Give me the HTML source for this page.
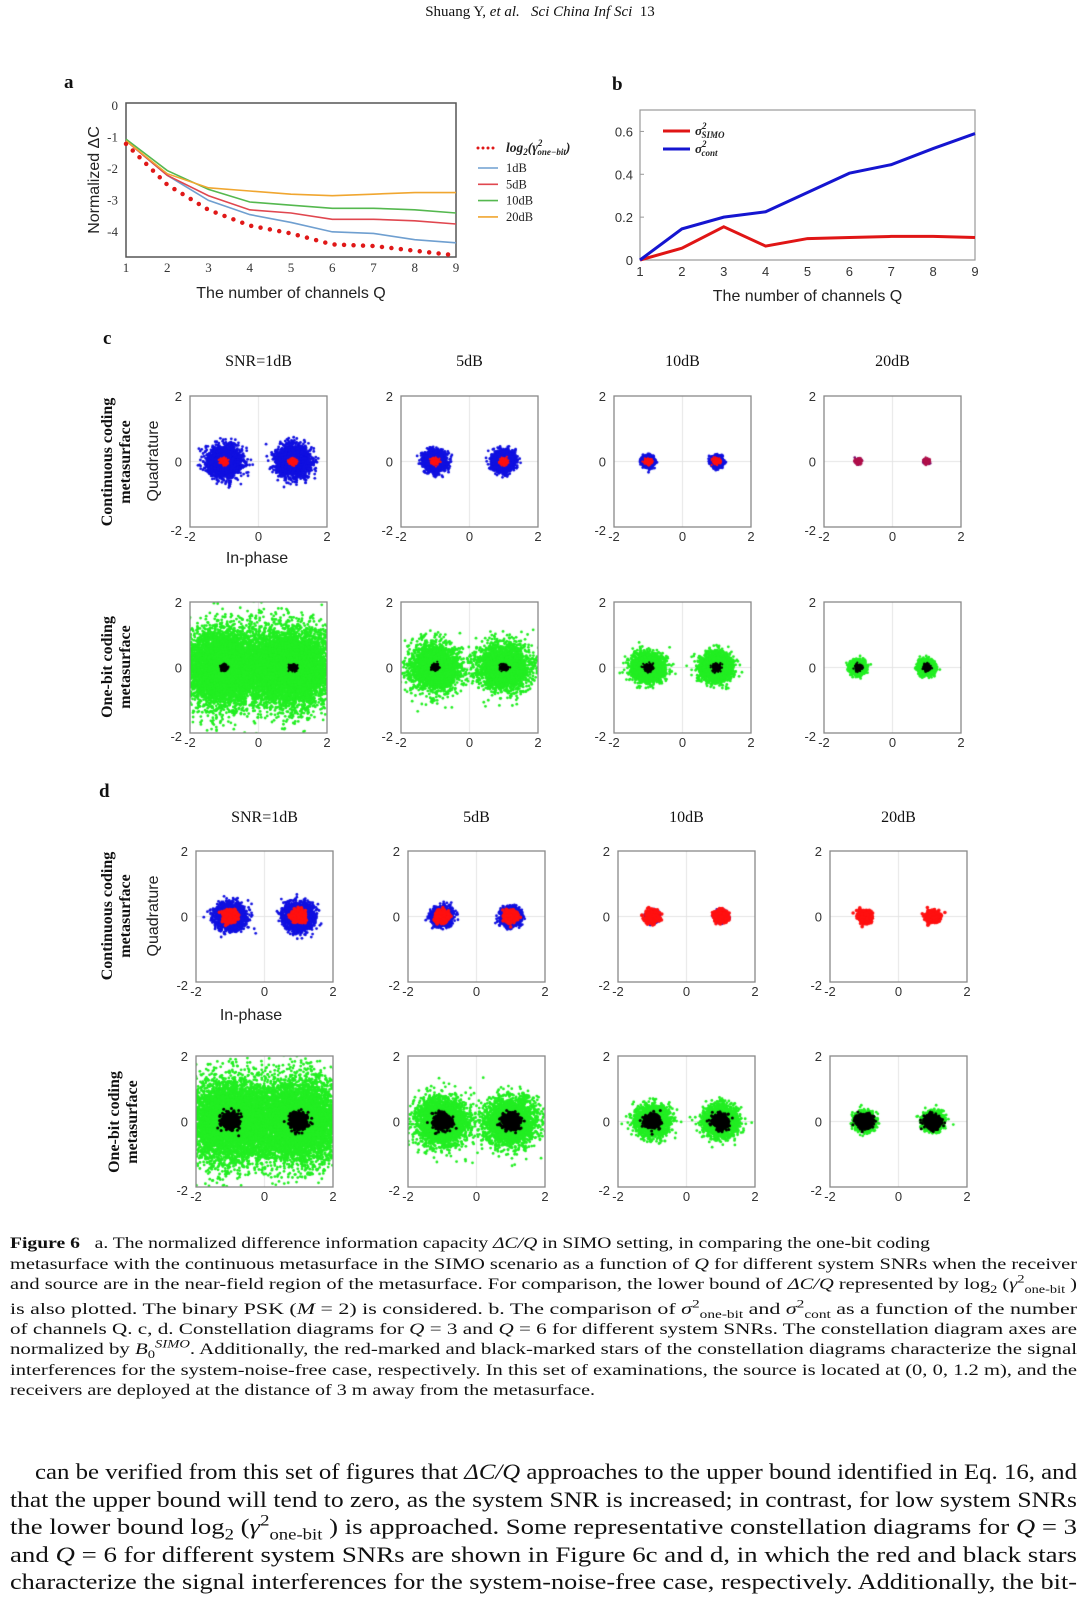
<!DOCTYPE html>
<html><head><meta charset="utf-8">
<style>
html,body{margin:0;padding:0;background:#fff;}
#root{position:relative;width:1080px;height:1600px;overflow:hidden;background:#fff;}
#cv,#sv{position:absolute;left:0;top:0;}
.txt{position:absolute;font-family:"Liberation Serif",serif;color:#111;white-space:nowrap;}
.cap{position:absolute;left:10px;font-family:"Liberation Serif",serif;font-size:16px;color:#111;white-space:nowrap;line-height:20px;transform-origin:0 0;}
.body{position:absolute;left:10px;font-family:"Liberation Serif",serif;font-size:22px;color:#111;white-space:nowrap;line-height:27px;transform-origin:0 0;}
sub,sup{font-size:70%;line-height:0;}
</style></head>
<body>
<div id="root">
<canvas id="cv" width="1080" height="1600"></canvas>
<svg id="sv" width="1080" height="1600" xmlns="http://www.w3.org/2000/svg"></svg>

<div class="txt" style="left:0;width:1080px;text-align:center;top:4px;font-size:15px;">Shuang Y, <i>et al.</i> &nbsp;&nbsp;<i>Sci China Inf Sci</i> &nbsp;13</div>

<div class="cap" data-w="920" style="top:1234px;"><b>Figure 6</b> &nbsp;&nbsp;a. The normalized difference information capacity <i>ΔC/Q</i> in SIMO setting, in comparing the one-bit coding</div>
<div class="cap" data-w="1067" style="top:1255px;">metasurface with the continuous metasurface in the SIMO scenario as a function of <i>Q</i> for different system SNRs when the receiver</div>
<div class="cap" data-w="1067" style="top:1275px;">and source are in the near-field region of the metasurface. For comparison, the lower bound of <i>ΔC/Q</i> represented by log<sub>2</sub> (<i>γ</i><sup>2</sup><sub>one-bit</sub> )</div>
<div class="cap" data-w="1067" style="top:1300px;">is also plotted. The binary PSK (<i>M</i> = 2) is considered. b. The comparison of <i>σ</i><sup>2</sup><sub>one-bit</sub> and <i>σ</i><sup>2</sup><sub>cont</sub> as a function of the number</div>
<div class="cap" data-w="1067" style="top:1320px;">of channels Q. c, d. Constellation diagrams for <i>Q</i> = 3 and <i>Q</i> = 6 for different system SNRs. The constellation diagram axes are</div>
<div class="cap" data-w="1067" style="top:1340px;">normalized by <i>B</i><sub>0</sub><sup><i>SIMO</i></sup>. Additionally, the red-marked and black-marked stars of the constellation diagrams characterize the signal</div>
<div class="cap" data-w="1067" style="top:1361px;">interferences for the system-noise-free case, respectively. In this set of examinations, the source is located at (0, 0, 1.2 m), and the</div>
<div class="cap" data-w="585" style="top:1381px;">receivers are deployed at the distance of 3 m away from the metasurface.</div>

<div class="body" data-w="1042" style="top:1458px;left:35px;">can be verified from this set of figures that <i>ΔC/Q</i> approaches to the upper bound identified in Eq. 16, and</div>
<div class="body" data-w="1067" style="top:1486px;">that the upper bound will tend to zero, as the system SNR is increased; in contrast, for low system SNRs</div>
<div class="body" data-w="1067" style="top:1513px;">the lower bound log<sub>2</sub> (<i>γ</i><sup>2</sup><sub>one-bit</sub> ) is approached. Some representative constellation diagrams for <i>Q</i> = 3</div>
<div class="body" data-w="1067" style="top:1541px;">and <i>Q</i> = 6 for different system SNRs are shown in Figure 6c and d, in which the red and black stars</div>
<div class="body" data-w="1067" style="top:1568px;">characterize the signal interferences for the system-noise-free case, respectively. Additionally, the bit-</div>
</div>

<script>
// ---------- Chart a data ----------
const aQ = [1,2,3,4,5,6,7,8,9];
const aLower = [-1.2,-2.5,-3.3,-3.8,-4.05,-4.4,-4.45,-4.6,-4.75];
const a1dB = [-1.1,-2.2,-3.0,-3.45,-3.7,-4.0,-4.05,-4.25,-4.35];
const a5dB = [-1.1,-2.2,-2.85,-3.3,-3.4,-3.6,-3.6,-3.65,-3.75];
const a10dB = [-1.05,-2.05,-2.65,-3.05,-3.15,-3.25,-3.25,-3.3,-3.4];
const a20dB = [-1.1,-2.15,-2.6,-2.7,-2.8,-2.85,-2.8,-2.75,-2.75];
const aYTicks = [0,-1,-2,-3,-4];
// ---------- Chart b data ----------
const bQ = [1,2,3,4,5,6,7,8,9];
const bCont = [0,0.145,0.2,0.225,0.315,0.405,0.445,0.52,0.59];
const bSimo = [0,0.055,0.155,0.065,0.1,0.105,0.11,0.11,0.105];
const bYTicks = [0,0.2,0.4,0.6];
// ---------- Constellation data ----------
const snrTitles = ["SNR=1dB","5dB","10dB","20dB"];
const symbols = [-1,1];
const cBlueSigma = [0.24,0.15,0.075,0.035];
const cRedSigma = [0.05,0.05,0.05,0.04];
const cGreenSigma = [0.62,0.36,0.22,0.1];
const cBlackSigma = [0.05,0.05,0.06,0.05];
const dBlueSigma = [0.2,0.13,0.07,0.03];
const dRedSigma = [0.09,0.09,0.09,0.09];
const dGreenSigma = [0.66,0.38,0.23,0.13];
const dBlackSigma = [0.12,0.12,0.11,0.11];
const axTicks = [-2,0,2];

// fit text lines to widths
document.querySelectorAll('[data-w]').forEach(el=>{
 const w=el.getBoundingClientRect().width;const t=+el.getAttribute('data-w');
 el.style.transform='scaleX('+(t/w)+')';
});

const NS='http://www.w3.org/2000/svg';
const sv=document.getElementById('sv');
function mk(tag,attrs,parent){const e=document.createElementNS(NS,tag);for(const k in attrs)e.setAttribute(k,attrs[k]);(parent||sv).appendChild(e);return e;}
function txt(x,y,s,opts,parent){const e=mk('text',Object.assign({x:x,y:y,'font-family':'Liberation Sans, sans-serif','font-size':13,fill:'#333'},opts||{}),parent);e.textContent=s;return e;}

// ======== Chart a ========
(function(){
 const L=126,R=456,T=103,B=257;
 const X=q=>L+(q-1)*(R-L)/8, Y=v=>T+(0.1-v)/4.9*(B-T);
 const g=mk('g',{});
 
 
 const box=mk('rect',{x:L,y:T,width:R-L,height:B-T,fill:'none',stroke:'#555','stroke-width':1.5},g);
 
 
 aYTicks.forEach(v=>{const t=txt(L-8,Y(v)+4,String(v),{'text-anchor':'end','font-family':'Liberation Serif, serif'},g);
  
  });
 aQ.forEach(q=>{const t=txt(X(q),B+15,String(q),{'text-anchor':'middle','font-family':'Liberation Serif, serif'},g);
  
  });
 const xt=txt((L+R)/2,298,'The number of channels Q',{'text-anchor':'middle','font-size':16,fill:'#222'},g);
 
 
 const yt=txt(0,0,'Normalized ΔC',{'text-anchor':'middle','font-size':16,fill:'#222',transform:'translate(99,'+((T+B)/2)+') rotate(-90)'},g);
 
 
 const series=[[a1dB,'#6f9fd0','1dB'],[a5dB,'#e0474f','5dB'],[a10dB,'#55b84f','10dB'],[a20dB,'#f0a630','20dB']];
 series.forEach(s=>{const p=mk('polyline',{points:aQ.map((q,i)=>X(q)+','+Y(s[0][i])).join(' '),fill:'none',stroke:s[1],'stroke-width':1.6},g);
  
  });
 const lb=mk('polyline',{points:aQ.map((q,i)=>X(q)+','+Y(aLower[i])).join(' '),fill:'none',stroke:'#e01818','stroke-width':4.5,'stroke-dasharray':'0 9.5','stroke-linecap':'round'},g);
 
 
 const lg=mk('g',{},g);
 
 
 mk('line',{x1:478,y1:148,x2:498,y2:148,stroke:'#e01818','stroke-width':3,'stroke-dasharray':'0 5','stroke-linecap':'round'},lg);
 const lt=txt(506,152,'',{'font-family':'Liberation Serif, serif','font-size':13.5,'font-style':'italic','font-weight':'bold',fill:'#222'},lg);
 lt.innerHTML='log<tspan font-size="9" dy="3">2</tspan><tspan dy="-3">(γ</tspan><tspan font-size="9" dy="-6">2</tspan><tspan font-size="9" dx="-5" dy="9">one−bit</tspan><tspan dy="-3">)</tspan>';
 series.forEach((s,i)=>{const y=168+i*16.3;
  mk('line',{x1:478,y1:y,x2:498,y2:y,stroke:s[1],'stroke-width':1.6},lg);
  const e=txt(506,y+4,s[2],{'font-family':'Liberation Serif, serif','font-size':12.5,fill:'#222'},lg);
  
  });
})();

// ======== Chart b ========
(function(){
 const L=640,R=975,T=110,B=260;
 const X=q=>L+(q-1)*(R-L)/8, Y=v=>B-v/0.7*(B-T);
 const g=mk('g',{});
 
 
 const box=mk('rect',{x:L,y:T,width:R-L,height:B-T,fill:'none',stroke:'#999','stroke-width':1.2},g);
 
 
 bYTicks.forEach(v=>{const t=txt(L-7,Y(v)+5,String(v),{'text-anchor':'end'},g);
  
  
  mk('line',{x1:L,y1:Y(v),x2:L+4,y2:Y(v),stroke:'#999'},g);});
 bQ.forEach(q=>{const t=txt(X(q),B+16,String(q),{'text-anchor':'middle'},g);
  
  });
 const xt=txt((L+R)/2,301,'The number of channels Q',{'text-anchor':'middle','font-size':16,fill:'#222'},g);
 
 
 const pr=mk('polyline',{points:bQ.map((q,i)=>X(q)+','+Y(bSimo[i])).join(' '),fill:'none',stroke:'#e01515','stroke-width':3},g);
 
 
 const pb=mk('polyline',{points:bQ.map((q,i)=>X(q)+','+Y(bCont[i])).join(' '),fill:'none',stroke:'#1515d0','stroke-width':3},g);
 
 
 const lg=mk('g',{},g);
 
 
 mk('line',{x1:663,y1:131,x2:690,y2:131,stroke:'#e01515','stroke-width':3},lg);
 mk('line',{x1:663,y1:149,x2:690,y2:149,stroke:'#1515d0','stroke-width':3},lg);
 const t1=txt(695,135,'',{'font-family':'Liberation Serif, serif','font-style':'italic','font-weight':'bold','font-size':13,fill:'#222'},lg);
 t1.innerHTML='σ<tspan font-size="9" dy="-6">2</tspan><tspan font-size="9" dx="-5" dy="9">SIMO</tspan>';
 const t2=txt(695,153,'',{'font-family':'Liberation Serif, serif','font-style':'italic','font-weight':'bold','font-size':13,fill:'#222'},lg);
 t2.innerHTML='σ<tspan font-size="9" dy="-6">2</tspan><tspan font-size="9" dx="-5" dy="9">cont</tspan>';
})();

[['a',64,88],['b',612,90],['c',103,344],['d',99,797]].forEach(p=>{const t=txt(p[1],p[2],p[0],{'font-family':'Liberation Serif, serif','font-weight':'bold','font-size':19,fill:'#111'});
 
 });

// ======== Constellations ========
const cv=document.getElementById('cv');const ctx=cv.getContext('2d');
let seed=12345;
function rnd(){seed|=0;seed=seed+0x6D2B79F5|0;let t=Math.imul(seed^seed>>>15,1|seed);t=t+Math.imul(t^t>>>7,61|t)^t;return((t^t>>>14)>>>0)/4294967296;}
function gauss(){let u=rnd()||1e-9,v=rnd();return Math.sqrt(-2*Math.log(u))*Math.cos(2*Math.PI*v);}
const W=137,H=131;
function cloud(px,py,sig,n,color,r){
 ctx.fillStyle=color;
 symbols.forEach(c=>{for(let i=0;i<n;i++){const x=c+gauss()*sig,y=gauss()*sig*0.95;
  const sx=px+(x+2)/4*W, sy=py+(2-y)/4*H;
  ctx.beginPath();ctx.arc(sx,sy,r,0,6.2832);ctx.fill();}});
}
function panel(px,py,idx,blueS,redS,kind,group,row){
 ctx.save();ctx.beginPath();ctx.rect(px,py,W,H);ctx.clip();
 ctx.strokeStyle='#e4e4e4';ctx.lineWidth=1;
 ctx.beginPath();ctx.moveTo(px+W/2,py);ctx.lineTo(px+W/2,py+H);ctx.moveTo(px,py+H/2);ctx.lineTo(px+W,py+H/2);ctx.stroke();
 if(kind==='cont'){
  cloud(px,py,blueS[idx],idx===3?300:2200,idx===3?'#7a0a6a':'#1010e0',1.4);
  cloud(px,py,redS[idx],group==='d'?500:200,idx===3&&group==='c'?'#b0104a':'#ff1010',group==='d'?1.8:1.1);
 } else {
  cloud(px,py,blueS[idx],idx===0?6000:2600,'#22ee22',1.4);
  cloud(px,py,redS[idx],group==='d'?600:200,'#000',group==='d'?1.5:1.1);
 }
 ctx.restore();
 const g=mk('g',{});
 
 
 mk('rect',{x:px,y:py,width:W,height:H,fill:'none',stroke:'#888','stroke-width':1.3},g);
 axTicks.forEach((v,i)=>{
  const ty=txt(px-8,py+(2-v)/4*H+5-(i===0?-3:0),String(v),{'text-anchor':'end','font-size':13},g);
  
  
  const tx=txt(px+(v+2)/4*W,py+H+14,String(v),{'text-anchor':'middle','font-size':13},g);
  
  
 });
}
const cX=[190,401,614,824], dX=[196,408,618,830];
snrTitles.forEach((s,i)=>{
 panel(cX[i],396,i,cBlueSigma,cRedSigma,'cont','c','row1');
 panel(cX[i],602,i,cGreenSigma,cBlackSigma,'one','c','row2');
 panel(dX[i],851,i,dBlueSigma,dRedSigma,'cont','d','row1');
 panel(dX[i],1056,i,dGreenSigma,dBlackSigma,'one','d','row2');
 const t1=txt(cX[i]+W/2,366,s,{'text-anchor':'middle','font-family':'Liberation Serif, serif','font-size':16,fill:'#111'});
 
 
 const t2=txt(dX[i]+W/2,822,s,{'text-anchor':'middle','font-family':'Liberation Serif, serif','font-size':16,fill:'#111'});
 
 
});
function rowLabel(x,cy,lines,name){
 lines.forEach((l,i)=>{const t=txt(0,0,l,{'text-anchor':'middle','font-family':'Liberation Serif, serif','font-weight':'bold','font-size':16,fill:'#111',transform:'translate('+(x+i*18)+','+cy+') rotate(-90)'});
  
  });
}
rowLabel(112,462,['Continuous coding','metasurface'],'c-row1-label');
rowLabel(112,667,['One-bit coding','metasurface'],'c-row2-label');
rowLabel(112,916,['Continuous coding','metasurface'],'d-row1-label');
rowLabel(119,1122,['One-bit coding','metasurface'],'d-row2-label');
[[461,'c'],[916,'d']].forEach(q=>{
 const t=txt(0,0,'Quadrature',{'text-anchor':'middle','font-size':16,fill:'#222',transform:'translate(158,'+q[0]+') rotate(-90)'});
 
 });
const ip1=txt(257,563,'In-phase',{'text-anchor':'middle','font-size':16,fill:'#222'});


const ip2=txt(251,1020,'In-phase',{'text-anchor':'middle','font-size':16,fill:'#222'});


</script>
</body></html>
